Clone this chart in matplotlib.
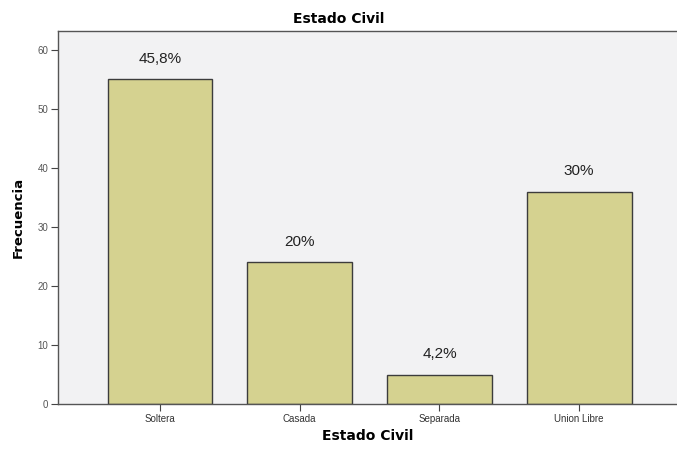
import matplotlib
matplotlib.use("Agg")
import matplotlib.pyplot as plt

# Data
categorias = ["Soltera", "Casada", "Separada", "Union Libre"]
frecuencias = [55, 24, 5, 36]
porcentajes = ["45,8%", "20%", "4,2%", "30%"]
yticks = [0, 10, 20, 30, 40, 50, 60]

bar_color = "#d5d290"
bg_color = "#f2f2f3"

fig = plt.figure(figsize=(6.77, 4.49), dpi=100)
ax = fig.add_axes([0.0857, 0.100, 0.9143, 0.831])
ax.set_facecolor(bg_color)

x = list(range(len(categorias)))
ax.bar(x, frecuencias, width=0.75, color=bar_color, edgecolor="#3c3c3c", linewidth=1.0, zorder=2)

for xi, val, txt in zip(x, frecuencias, porcentajes):
    ax.annotate(txt, (xi, val), xytext=(0, 15), textcoords="offset points",
                ha="center", va="center", fontsize=11, color="#222222",
                family="Liberation Sans")

ax.set_xlim(-0.73, 3.7)
ax.set_ylim(0, 63.2)
ax.set_xticks(x)
ax.set_xticklabels(categorias, fontsize=7, family="Liberation Sans", color="#333333")
ax.set_yticks(yticks)
ax.set_yticklabels([str(v) for v in yticks], fontsize=7, family="Liberation Sans", color="#555555")
ax.tick_params(axis="both", direction="out", length=5, width=0.8, color="#444444", pad=2)

for side in ["left", "bottom", "top"]:
    ax.spines[side].set_color("#555555")
    ax.spines[side].set_linewidth(1.0)
ax.spines["right"].set_visible(False)

ax.set_xlabel("Estado Civil", fontsize=10, fontweight="bold", labelpad=4)
ax.set_ylabel("Frecuencia", fontsize=9.5, fontweight="bold", labelpad=9)
fig.text(0.5, 0.958, "Estado Civil", ha="center", va="center", fontsize=10, fontweight="bold")

fig.savefig("out.png", dpi=100, facecolor="white")
